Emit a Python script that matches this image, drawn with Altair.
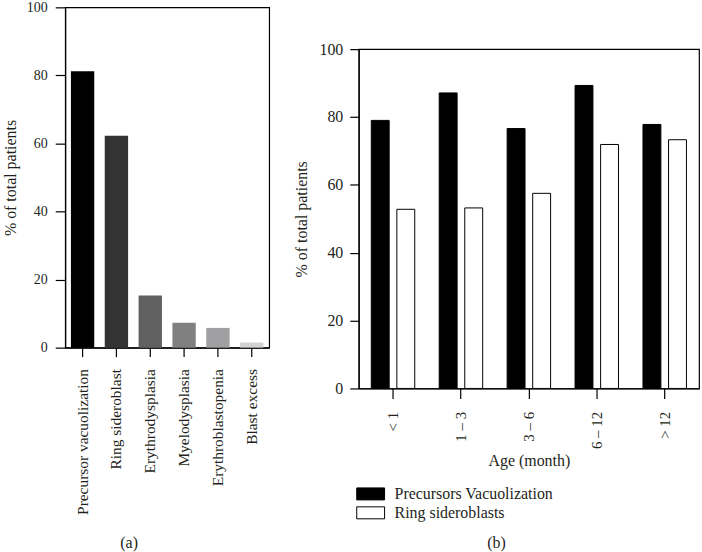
import altair as alt
import pandas as pd

# ---- data ----
cats_a = ["Precursor vacuolization", "Ring sideroblast", "Erythrodysplasia",
          "Myelodysplasia", "Erythroblastopenia", "Blast excess"]
vals_a = [81.2, 62.3, 15.3, 7.3, 5.8, 1.5]
colors_a = ["#000000", "#333333", "#606060", "#808080", "#a0a0a3", "#d2d2d2"]

ages = ["< 1", "1 – 3", "3 – 6", "6 – 12", "> 12"]
series = ["Precursors Vacuolization", "Ring sideroblasts"]
vac = [79.0, 87.1, 76.6, 89.3, 77.8]
ring = [52.8, 53.2, 57.5, 71.9, 73.3]
yticks = [0, 20, 40, 60, 80, 100]

FONT = "Liberation Serif"
INK = "#231f20"

df_a = pd.DataFrame({"cat": cats_a, "val": vals_a})
df_b = pd.DataFrame({
    "age": ages * 2,
    "series": [series[0]] * len(ages) + [series[1]] * len(ages),
    "val": vac + ring,
})

chart_a = alt.Chart(df_a).mark_bar().encode(
    x=alt.X("cat:N", sort=cats_a,
            scale=alt.Scale(paddingInner=0.31, paddingOuter=0.17),
            axis=alt.Axis(title=None, labelAngle=270, labelFontSize=15.5,
                          labelPadding=12, tickSize=9)),
    y=alt.Y("val:Q", scale=alt.Scale(domain=[0, 100], nice=False),
            axis=alt.Axis(values=yticks, title="% of total patients",
                          labelFontSize=14, labelPadding=8, tickSize=10,
                          titleFontSize=16, titlePadding=7.5)),
    color=alt.Color("cat:N", sort=cats_a,
                    scale=alt.Scale(domain=cats_a, range=colors_a), legend=None),
).properties(
    width=205, height=342,
    title=alt.TitleParams("(a)", orient="bottom", frame="bounds", dx=-7,
                          offset=21, fontSize=16),
)

chart_b = alt.Chart(df_b).mark_bar(stroke="black", strokeWidth=1).encode(
    x=alt.X("age:N", sort=ages,
            scale=alt.Scale(paddingInner=0.36, paddingOuter=0.185),
            axis=alt.Axis(title="Age (month)", labelAngle=270, labelFontSize=15,
                          labelPadding=13, tickSize=10, titleFontSize=16,
                          titlePadding=4)),
    xOffset=alt.XOffset("series:N", sort=series,
                        scale=alt.Scale(paddingInner=0.3, paddingOuter=0)),
    y=alt.Y("val:Q", scale=alt.Scale(domain=[0, 100], nice=False),
            axis=alt.Axis(values=yticks, title="% of total patients",
                          labelFontSize=16, labelPadding=7, tickSize=9,
                          titleFontSize=16, titlePadding=9)),
    fill=alt.Fill("series:N", sort=series,
                  scale=alt.Scale(domain=series, range=["#000000", "#ffffff"]),
                  legend=alt.Legend(title=None, orient="none", legendX=4,
                                    legendY=439, direction="vertical",
                                    symbolType="M-2,-0.86L2,-0.86L2,0.86L-2,0.86Z",
                                    symbolSize=196, symbolStrokeColor="black",
                                    symbolStrokeWidth=1, labelFontSize=16,
                                    labelFont=FONT, labelColor=INK,
                                    labelOffset=16, rowPadding=1)),
).properties(
    width=342, height=341,
    title=alt.TitleParams("(b)", orient="bottom", frame="bounds", offset=13,
                          fontSize=16),
)

spacer = alt.Chart(pd.DataFrame({"v": [0]})).mark_point(opacity=0, size=1).encode(
    x=alt.value(50), y=alt.value(10)
).properties(width=100, height=23, view=alt.ViewBackground(stroke=None))

right = alt.vconcat(spacer, chart_b, spacing=10).resolve_legend(fill="independent")

chart = alt.hconcat(chart_a, right, spacing=23).resolve_legend(
    fill="independent", color="independent"
).properties(
    padding={"left": 1.5, "top": -2, "right": 2, "bottom": 0}
).configure(font=FONT).configure_view(
    stroke="black", strokeWidth=1.2
).configure_axis(
    grid=False, labelColor=INK, titleColor=INK, domainColor="black",
    tickColor="black", domainWidth=1.2, tickWidth=1.2, labelFont=FONT,
    titleFont=FONT, titleFontWeight="normal",
).configure_title(
    font=FONT, color=INK, fontWeight="normal", anchor="middle",
)

chart.save("out.html", embed_options={"renderer": "svg", "actions": False})
